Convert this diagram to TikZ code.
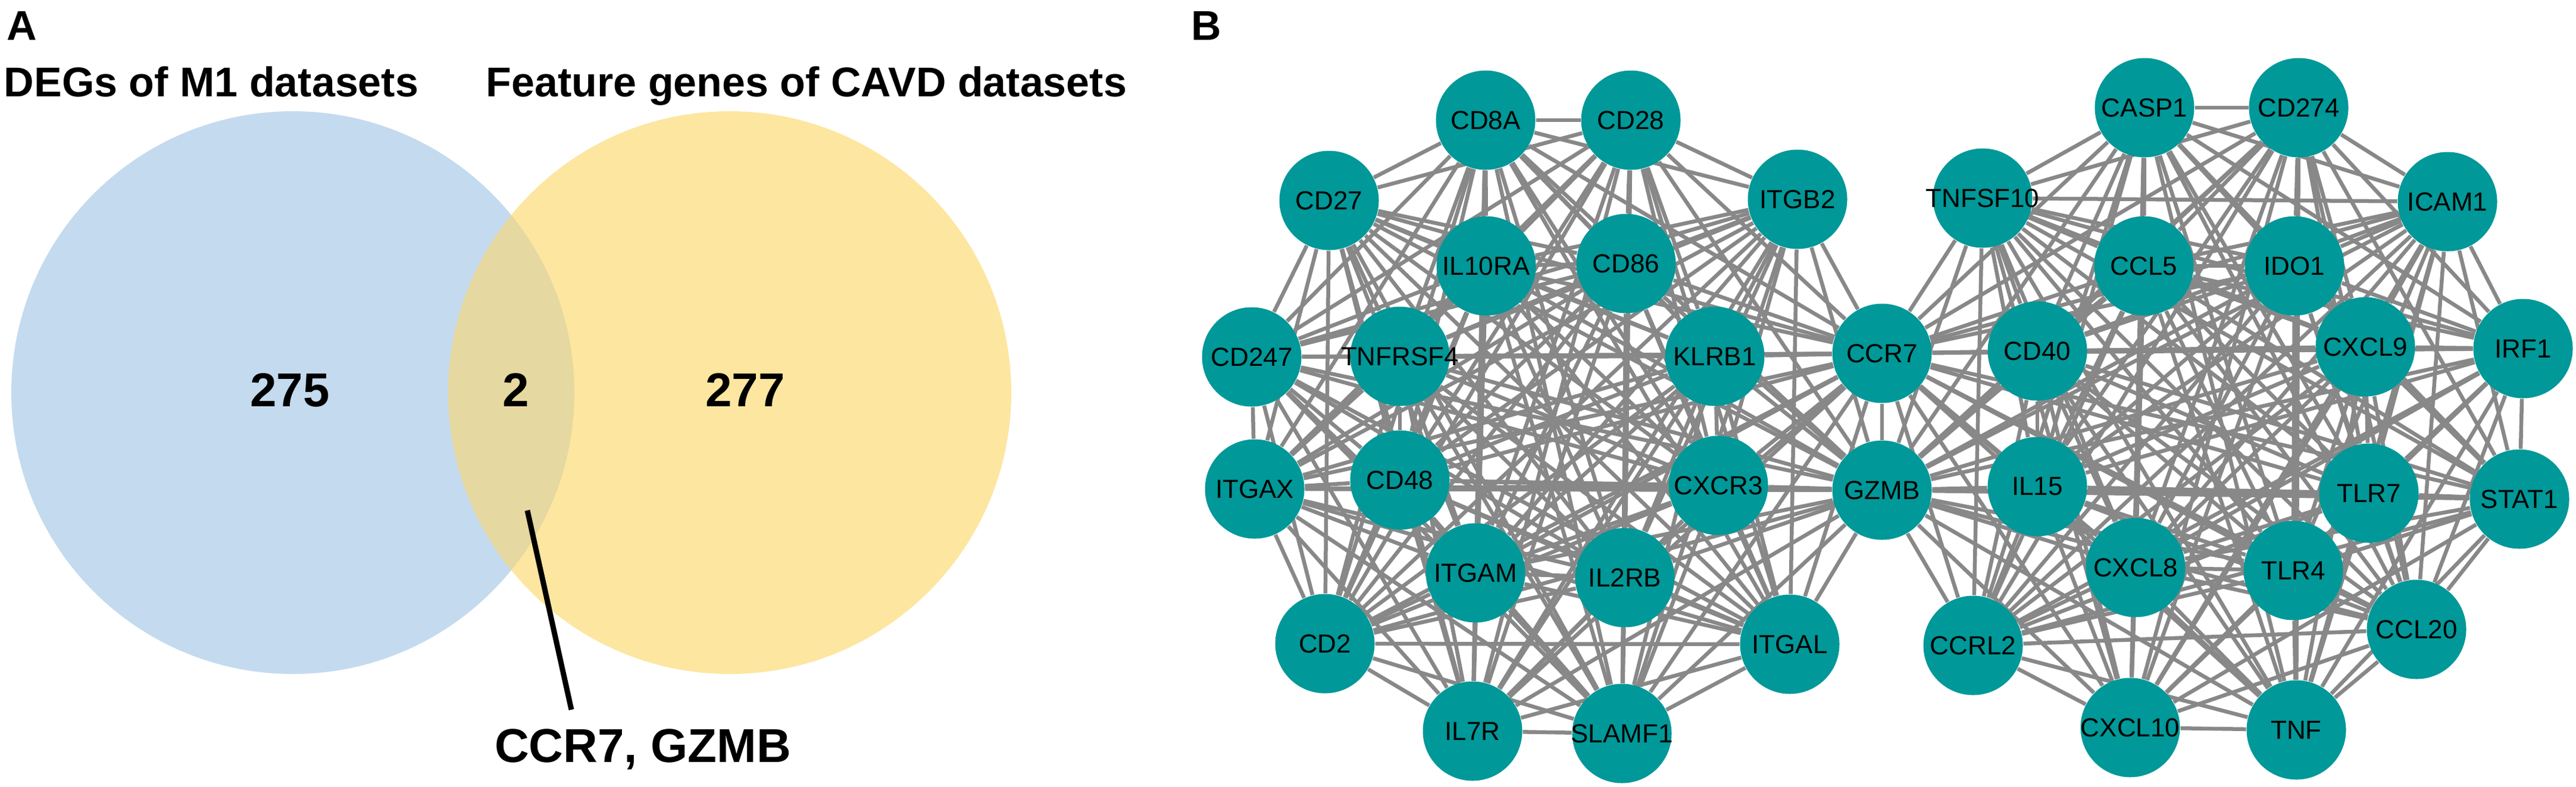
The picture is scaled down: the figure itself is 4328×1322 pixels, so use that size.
\documentclass[tikz,border=0pt]{standalone}
\usepackage{fontspec}
\setmainfont{Liberation Sans}
\usetikzlibrary{backgrounds}
\definecolor{vblue}{RGB}{196,218,239}
\definecolor{vyellow}{RGB}{253,230,160}
\definecolor{vover}{RGB}{229,216,160}
\definecolor{genefill}{RGB}{0,152,152}
\definecolor{edgegray}{RGB}{136,136,136}
\expandafter\def\csname skip@CD27-ITGB2\endcsname{}
\def\leftlist{CD8A,CD28,CD27,ITGB2,IL10RA,CD86,CD247,TNFRSF4,KLRB1,CCR7,ITGAX,CD48,CXCR3,GZMB,ITGAM,IL2RB,CD2,ITGAL,IL7R,SLAMF1}
\def\rightlist{CCR7,GZMB,CASP1,CD274,TNFSF10,ICAM1,CCL5,IDO1,CD40,CXCL9,IRF1,IL15,TLR7,STAT1,CXCL8,TLR4,CCRL2,CCL20,CXCL10,TNF}
\begin{document}
\begin{tikzpicture}[x=0.2pt,y=-0.2pt,
  gene/.style={circle,fill=genefill,minimum size=33.4pt,inner sep=0pt,font=\fontsize{8.8}{10}\selectfont,text=black,
    execute at begin node={\hbox to 0pt\bgroup\hss},
    execute at end node={\hss\egroup}},
  edge/.style={draw=edgegray,line width=1.3pt},
  settitle/.style={font=\fontsize{14}{16}\selectfont\bfseries,inner sep=0pt,anchor=base},
  setcount/.style={font=\fontsize{16}{18}\selectfont\bfseries,inner sep=0pt,anchor=base},
  panel/.style={font=\fontsize{14}{16}\selectfont\bfseries,inner sep=0pt,anchor=base west}]
\useasboundingbox (0,0) rectangle (4328,1322);
% ---------- Panel A ----------
\node[panel] (pA) at (10,67) {A};
\fill[vblue] (492,660) circle[radius=94.6pt];
\fill[vyellow] (1226,660) circle[radius=94.6pt];
\begin{scope}
  \clip (492,660) circle[radius=94.6pt];
  \fill[vover] (1226,660) circle[radius=94.6pt];
\end{scope}
\node[settitle] (tA) at (355,162) {DEGs of M1 datasets};
\node[settitle] (tB) at (1355,162) {Feature genes of CAVD datasets};
\node[setcount] (c1) at (487,683) {275};
\node[setcount] (c2) at (867,683) {2};
\node[setcount] (c3) at (1252,683) {277};
\node[setcount] (common) at (1080,1281) {CCR7, GZMB};
\coordinate (lineTop) at (886,858);
\coordinate (lineBot) at (960,1193);
\draw[line width=1.8pt] (lineTop) -- (lineBot);
% ---------- Panel B ----------
\node[panel] (pB) at (2000,67) {B};
\node[gene] (CD8A) at (2496,202) {CD8A};
\node[gene] (CD28) at (2740,202) {CD28};
\node[gene] (CD27) at (2233,337) {CD27};
\node[gene] (ITGB2) at (3020,335) {ITGB2};
\node[gene] (IL10RA) at (2497,447) {IL10RA};
\node[gene] (CD86) at (2732,443) {CD86};
\node[gene] (CD247) at (2103,600) {CD247};
\node[gene] (TNFRSF4) at (2352,599) {TNFRSF4};
\node[gene] (KLRB1) at (2881,599) {KLRB1};
\node[gene] (CCR7) at (3162,594) {CCR7};
\node[gene] (ITGAX) at (2108,822) {ITGAX};
\node[gene] (CD48) at (2352,807) {CD48};
\node[gene] (CXCR3) at (2887,816) {CXCR3};
\node[gene] (GZMB) at (3162,824) {GZMB};
\node[gene] (ITGAM) at (2479,963) {ITGAM};
\node[gene] (IL2RB) at (2730,971) {IL2RB};
\node[gene] (CD2) at (2226,1082) {CD2};
\node[gene] (ITGAL) at (3007,1083) {ITGAL};
\node[gene] (IL7R) at (2474,1229) {IL7R};
\node[gene] (SLAMF1) at (2725,1233) {SLAMF1};
\node[gene] (CASP1) at (3603,181) {CASP1};
\node[gene] (CD274) at (3862,181) {CD274};
\node[gene] (TNFSF10) at (3331,333) {TNFSF10};
\node[gene] (ICAM1) at (4112,339) {ICAM1};
\node[gene] (CCL5) at (3602,447) {CCL5};
\node[gene] (IDO1) at (3855,447) {IDO1};
\node[gene] (CD40) at (3423,590) {CD40};
\node[gene] (CXCL9) at (3974,583) {CXCL9};
\node[gene] (IRF1) at (4239,586) {IRF1};
\node[gene] (IL15) at (3423,818) {IL15};
\node[gene] (TLR7) at (3980,829) {TLR7};
\node[gene] (STAT1) at (4233,839) {STAT1};
\node[gene] (CXCL8) at (3588,954) {CXCL8};
\node[gene] (TLR4) at (3853,959) {TLR4};
\node[gene] (CCRL2) at (3315,1085) {CCRL2};
\node[gene] (CCL20) at (4060,1058) {CCL20};
\node[gene] (CXCL10) at (3579,1223) {CXCL10};
\node[gene] (TNF) at (3858,1227) {TNF};
\begin{scope}[on background layer]
\foreach \a [count=\i] in \leftlist {
  \foreach \b [count=\j] in \leftlist {
    \ifnum\j>\i
      \ifcsname skip@\a-\b\endcsname\else
        \draw[edge] (\a) -- (\b);
      \fi
    \fi
  }
}
\foreach \a [count=\i] in \rightlist {
  \foreach \b [count=\j] in \rightlist {
    \ifnum\j>\i
      \ifnum\i>1
        \draw[edge] (\a) -- (\b);
      \else
        \ifnum\j>2 \draw[edge] (\a) -- (\b); \fi
      \fi
    \fi
  }
}
\end{scope}
\end{tikzpicture}
\end{document}
